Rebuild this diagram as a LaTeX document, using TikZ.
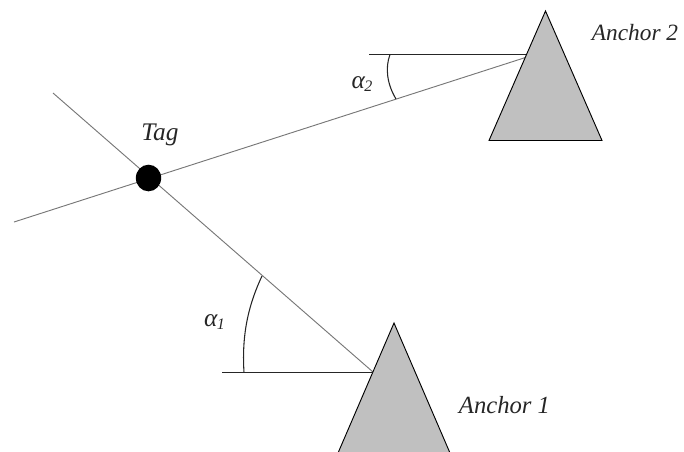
\documentclass[tikz,border=0pt]{standalone}
\usepackage{fontspec}
\setmainfont{Liberation Serif}
\definecolor{anchorgray}{HTML}{C0C0C0}
\definecolor{rayline}{HTML}{777777}
\tikzset{
  anchorshape/.style={fill=anchorgray,draw=black,line width=0.7pt,line join=miter},
  ray/.style={draw=rayline,line width=0.7pt},
  refline/.style={draw=black!85,line width=0.8pt},
  anglearc/.style={draw=black!85,line width=0.8pt},
  tagdot/.style={circle,fill=black,draw=none,inner sep=0pt,minimum width=19pt,minimum height=19pt,yscale=1.05},
  lab/.style={font=\itshape,text=black!85,inner sep=0pt},
}
\begin{document}
\begin{tikzpicture}[x=0.75pt,y=-0.75pt]
\useasboundingbox (0,0) rectangle (684,451);
\clip (0,0) rectangle (684,451);
\coordinate (rayAstart) at (53,93);
\coordinate (rayBstart) at (14,222);
\coordinate (foot1) at (373,372);
\coordinate (foot2) at (527,57);
\coordinate (ref1) at (222,372.5);
\coordinate (ref1end) at (372,372.5);
\coordinate (ref2) at (369,54.5);
\coordinate (ref2end) at (527,54.5);
\coordinate (a1s) at (244,372.5);
\coordinate (a1e) at (262,276);
\coordinate (a2s) at (390,54.5);
\coordinate (a2e) at (396,99);
\draw[ray] (rayAstart) -- (foot1);
\draw[ray] (rayBstart) -- (foot2);
\draw[refline] (ref1) -- (ref1end);
\draw[refline] (ref2) -- (ref2end);
\draw[anglearc] (a1s) .. controls (242,340) and (246,310) .. (a1e);
\draw[anglearc] (a2s) .. controls (385,68) and (387,84) .. (a2e);
\draw[anchorshape] (338,453) -- (394,323) -- (450,453) -- cycle;
\draw[anchorshape] (489,140.5) -- (545.5,11) -- (602,140.5) -- cycle;
\node[tagdot] (tag) at (148.5,178) {};
\node[lab,font=\itshape\fontsize{19}{22}\selectfont] (taglab) at (160,135) {Tag};
\node[lab,font=\itshape\fontsize{17.5}{20}\selectfont] (anchortwo) at (635,33) {Anchor 2};
\node[lab,font=\itshape\fontsize{18.5}{20}\selectfont] (anchorone) at (504.5,405) {Anchor 1};
\node[lab,font=\itshape\fontsize{19}{20}\selectfont] (alphatwo) at (362,84) {α\kern-0.5pt\raisebox{-2pt}{\fontsize{12}{14}\selectfont 2}};
\node[lab,font=\itshape\fontsize{19}{20}\selectfont] (alphaone) at (214.5,322) {α\kern-0.5pt\raisebox{-2pt}{\fontsize{12}{14}\selectfont 1}};
\end{tikzpicture}
\end{document}
